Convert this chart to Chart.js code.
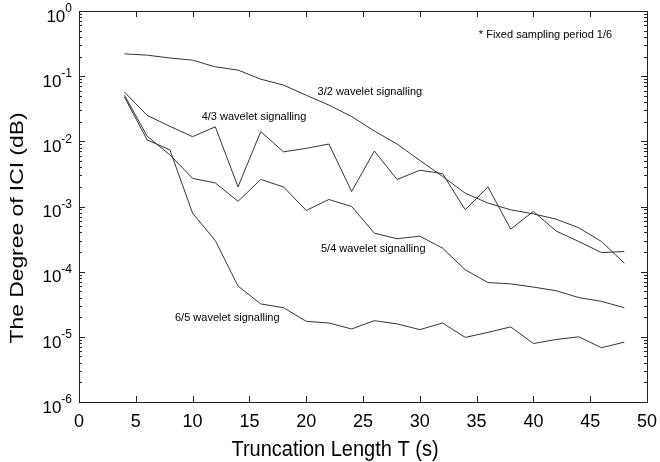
<!DOCTYPE html>
<html>
<head>
<meta charset="utf-8">
<script src="https://cdn.jsdelivr.net/npm/chart.js@4.4.0/dist/chart.umd.min.js"></script>
<style>
  html, body { margin: 0; padding: 0; background: #fff; }
  #wrap { width: 660px; height: 462px; }
</style>
</head>
<body>
<div id="wrap"><canvas id="chart" width="660" height="462"></canvas></div>
<script>
// --- DATA ---
const truncLen = [4, 6, 8, 10, 12, 14, 16, 18, 20, 22, 24, 26, 28, 30, 32, 34, 36, 38, 40, 42, 44, 46, 48];

const ici32 = [0.22, 0.21, 0.19, 0.176, 0.139, 0.124, 0.09, 0.073, 0.051, 0.036, 0.024, 0.0144,
    0.0091, 0.0051, 0.0029, 0.0016, 0.00113, 0.00089, 0.00077, 0.00064, 0.00047, 0.00029, 0.000135];
const ici43 = [0.057, 0.025, 0.017, 0.0118, 0.0167, 0.002, 0.0141, 0.0069, 0.0078, 0.0091, 0.0017, 0.0071,
    0.0026, 0.0036, 0.0032, 0.00089, 0.002, 0.00045, 0.00084, 0.00042, 0.00029, 0.000196, 0.000204];
const ici54 = [0.051, 0.012, 0.0062, 0.0027, 0.0023, 0.0012, 0.0026, 0.002, 0.00087, 0.00128, 0.001, 0.00039,
    0.00032, 0.00035, 0.00023, 0.000107, 0.000068, 0.000065, 0.000058, 0.000051, 0.00004, 0.000035, 0.000028];
const ici65 = [0.048, 0.0105, 0.0074, 0.00079, 0.0003, 0.00006, 0.000032, 0.000028, 0.0000173, 0.0000163, 0.0000132, 0.0000177,
    0.0000158, 0.0000129, 0.0000163, 0.0000098, 0.0000117, 0.0000142, 0.0000079, 0.0000091, 0.00001, 0.0000068, 0.0000083];

const xTicks = [0, 5, 10, 15, 20, 25, 30, 35, 40, 45, 50];
const yExponents = [0, -1, -2, -3, -4, -5, -6];

// text labels inside the plot, anchored in data units
const noteTexts = ['3/2 wavelet signalling', '4/3 wavelet signalling', '5/4 wavelet signalling',
    '6/5 wavelet signalling', '* Fixed sampling period 1/6'];
const noteX = [21.0, 10.8, 21.3, 8.45, 35.2];
const noteY = [0.057, 0.0236, 0.00022, 0.0000196, 0.425];

const FONT = '"Liberation Sans", Arial, sans-serif';
const INK = '#222';

function series(values) {
    return {
        data: truncLen.map((t, i) => ({ x: t, y: values[i] })),
        borderColor: '#333',
        borderWidth: 1,
        pointRadius: 0,
        tension: 0,
        fill: false
    };
}

// --- FRAME, TICKS, LABELS ---
const framePlugin = {
    id: 'frame',
    afterDatasetsDraw(chart) {
        const { ctx, chartArea: a, scales: { x, y } } = chart;
        ctx.save();
        ctx.strokeStyle = INK;
        ctx.lineWidth = 1;
        ctx.strokeRect(a.left + 0.5, a.top + 0.5, a.right - a.left, a.bottom - a.top);

        ctx.beginPath();
        // x ticks, inward on bottom and top
        xTicks.forEach(v => {
            const px = Math.round(x.getPixelForValue(v)) + 0.5;
            ctx.moveTo(px, a.bottom); ctx.lineTo(px, a.bottom - 6);
            ctx.moveTo(px, a.top); ctx.lineTo(px, a.top + 6);
        });
        // y ticks (major + minor), inward on left and right
        yExponents.forEach(e => {
            for (let m = 1; m <= 9; m++) {
                const v = m * Math.pow(10, e);
                if (v > 1 || v < 1e-6) continue;
                const py = Math.round(y.getPixelForValue(v)) + 0.5;
                const len = m === 1 ? 6 : 3;
                ctx.moveTo(a.left, py); ctx.lineTo(a.left + len, py);
                ctx.moveTo(a.right, py); ctx.lineTo(a.right - len, py);
            }
        });
        ctx.stroke();

        ctx.fillStyle = '#000';
        // x tick labels
        ctx.font = '18px ' + FONT;
        ctx.textAlign = 'center';
        ctx.textBaseline = 'middle';
        xTicks.forEach(v => ctx.fillText(String(v), x.getPixelForValue(v), a.bottom + 20));

        // y tick labels 10^e
        yExponents.forEach(e => {
            const py = y.getPixelForValue(Math.pow(10, e));
            const exp = String(e);
            ctx.font = '12px ' + FONT;
            const ew = ctx.measureText(exp).width;
            ctx.textAlign = 'left';
            ctx.textBaseline = 'middle';
            const ex = a.left - 7 - ew;
            ctx.fillText(exp, ex, py - 2);
            ctx.font = '17px ' + FONT;
            ctx.textAlign = 'right';
            ctx.fillText('10', ex, py + 6);
        });

        // axis titles (source figure is slightly stretched vertically)
        ctx.font = '20px ' + FONT;
        ctx.textAlign = 'center';
        ctx.textBaseline = 'alphabetic';
        ctx.save();
        ctx.translate(335, 456);
        ctx.scale(1, 1.1);
        ctx.fillText('Truncation Length T (s)', 0, 0);
        ctx.restore();

        ctx.save();
        ctx.font = '19px ' + FONT;
        ctx.textBaseline = 'middle';
        ctx.translate(18, 228);
        ctx.rotate(-Math.PI / 2);
        const tw = ctx.measureText('The Degree of ICI (dB)').width;
        ctx.scale(231 / tw, 1);
        ctx.fillText('The Degree of ICI (dB)', 0, 0);
        ctx.restore();

        // in-plot notes
        ctx.font = '11px ' + FONT;
        ctx.textAlign = 'left';
        ctx.textBaseline = 'middle';
        noteTexts.forEach((t, i) => {
            ctx.fillText(t, x.getPixelForValue(noteX[i]), y.getPixelForValue(noteY[i]));
        });
        ctx.restore();
    }
};

new Chart(document.getElementById('chart'), {
    type: 'line',
    data: {
        datasets: [series(ici32), series(ici43), series(ici54), series(ici65)]
    },
    options: {
        responsive: false,
        animation: false,
        events: [],
        layout: { padding: { top: 11, right: 13, left: 0, bottom: 0 } },
        plugins: { legend: { display: false }, tooltip: { enabled: false } },
        scales: {
            x: {
                type: 'linear', min: 0, max: 50,
                grid: { display: false }, border: { display: false },
                ticks: { display: false },
                afterFit(s) { s.height = 60; }
            },
            y: {
                type: 'logarithmic', min: 1e-6, max: 1,
                grid: { display: false }, border: { display: false },
                ticks: { display: false },
                afterFit(s) { s.width = 79; }
            }
        }
    },
    plugins: [framePlugin]
});
</script>
</body>
</html>
